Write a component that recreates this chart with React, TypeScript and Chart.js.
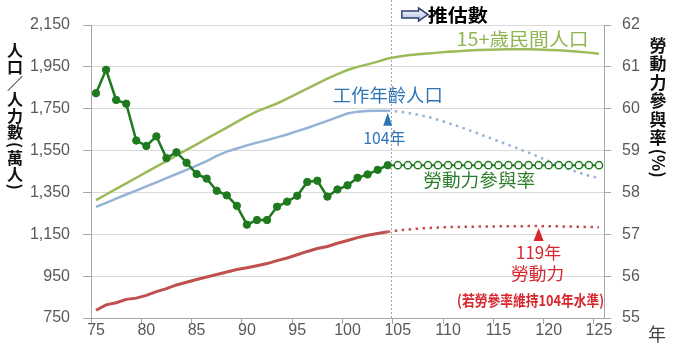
import React, { useEffect, useRef } from 'react';
import { Chart, registerables } from 'chart.js';
Chart.register(...registerables);

// ---- data (民國年) ----
const years = ['75','76','77','78','79','80','81','82','83','84','85','86','87','88','89','90','91','92','93','94','95','96','97','98','99','100','101','102','103','104','105','106','107','108','109','110','111','112','113','114','115','116','117','118','119','120','121','122','123','124','125'];

// 15+歲民間人口 (萬人), 75-125
const pop15 = [1313,1340,1367,1393,1420,1447,1473,1500,1527,1553,1580,1607,1633,1660,1687,1713,1737,1756,1775,1798,1822,1846,1870,1894,1915,1935,1950,1962,1975,1990,1998,2005,2010,2014,2018,2022,2025,2028,2030,2032,2033,2034,2034,2034,2033,2031,2029,2026,2022,2018,2013];

// 工作年齡人口 (萬人): 實績 75-104, 推估 105-125
const workAgeHist = [1281,1300,1320,1340,1359,1379,1398,1418,1438,1458,1478,1500,1525,1545,1560,1575,1588,1600,1613,1627,1643,1658,1675,1692,1710,1727,1736,1739,1740,1740];
const workAgeProj = [1737,1730,1721,1711,1697,1682,1666,1649,1631,1613,1595,1577,1559,1540,1520,1500,1478,1460,1445,1430,1418];

// 勞動力 (萬人)
const laborHist = [787,813,823,839,845,858,876,890,908,921,934,946,958,970,982,990,1000,1010,1024,1037,1052,1068,1082,1092,1107,1120,1134,1145,1154,1162];
const laborProj = [1168,1173,1177,1180,1182,1184,1185,1186,1187,1187,1188,1188,1188,1189,1189,1188,1188,1187,1186,1185,1184];

// 勞動力參與率 (%)
const lfprHist = [60.37,60.93,60.21,60.12,59.24,59.11,59.34,58.82,58.96,58.71,58.44,58.33,58.04,57.93,57.68,57.23,57.34,57.34,57.66,57.78,57.92,58.25,58.28,57.90,58.07,58.17,58.35,58.43,58.54,58.65];
const lfprProj = [58.65,58.65,58.65,58.65,58.65,58.65,58.65,58.65,58.65,58.65,58.65,58.65,58.65,58.65,58.65,58.65,58.65,58.65,58.65,58.65,58.65];

const leftTicks = { min: 750, max: 2150, step: 200 };
const rightTicks = { min: 55, max: 62, step: 1 };

const HIST_LEN = workAgeHist.length; // 30 (75..104)
const LAST_HIST = HIST_LEN - 1; // index of 104
const IDX_119 = years.indexOf('119');

function place(arr: number[], start: number): (number | null)[] {
  return years.map((_, i) => (i >= start && i < start + arr.length ? arr[i - start] : null));
}

const CJK = '"Noto Sans CJK TC", "Noto Sans CJK SC", sans-serif';
const TICK_FONT = 'Liberation Sans';

const C_GREEN_L = '#9BBB59';
const C_BLUE = '#95B3D7';
const C_RED = '#C0504D';
const C_GREEN_D = '#1F7A1F';

function drawText(ctx: CanvasRenderingContext2D, str: string, x: number, y: number, size: number, color: string, weight = 'normal', targetW?: number) {
  ctx.save();
  ctx.font = `${weight} ${size}px ${CJK}`;
  ctx.fillStyle = color;
  ctx.textAlign = 'center';
  ctx.textBaseline = 'middle';
  const w = ctx.measureText(str).width;
  const sx = targetW ? targetW / w : 1;
  ctx.translate(x, y);
  ctx.scale(sx, 1);
  ctx.fillText(str, 0, 0);
  ctx.restore();
}

function drawVertical(ctx: CanvasRenderingContext2D, items: { ch: string; rot?: boolean }[], cx: number, top: number, size: number, pitch: number, color: string) {
  ctx.save();
  ctx.font = `bold ${size}px ${CJK}`;
  ctx.fillStyle = color;
  ctx.textAlign = 'center';
  ctx.textBaseline = 'middle';
  let y = top;
  for (const it of items) {
    if (it.rot) {
      const w = ctx.measureText(it.ch).width + 3;
      ctx.save();
      ctx.translate(cx, y + w / 2);
      ctx.rotate(Math.PI / 2);
      ctx.fillText(it.ch, 0, 0);
      ctx.restore();
      y += w;
    } else {
      ctx.fillText(it.ch, cx, y + pitch / 2);
      y += pitch;
    }
  }
  ctx.restore();
}

function triangleUp(ctx: CanvasRenderingContext2D, x: number, tipY: number, h: number, halfW: number, color: string) {
  ctx.save();
  ctx.fillStyle = color;
  ctx.beginPath();
  ctx.moveTo(x, tipY);
  ctx.lineTo(x + halfW, tipY + h);
  ctx.lineTo(x - halfW, tipY + h);
  ctx.closePath();
  ctx.fill();
  ctx.restore();
}

const annotations = {
  id: 'annotations',
  beforeDatasetsDraw(chart: any) {
    const { ctx, scales, chartArea } = chart;
    const x = scales.x;
    const p0 = x.getPixelForValue(LAST_HIST);
    const p1 = x.getPixelForValue(LAST_HIST + 1);
    const xs = Math.round(p0 + 0.3 * (p1 - p0)) + 0.5;
    ctx.save();
    ctx.strokeStyle = '#A6A6A6';
    ctx.lineWidth = 1;
    ctx.setLineDash([2, 2]);
    ctx.beginPath();
    ctx.moveTo(xs, 0);
    ctx.lineTo(xs, chartArea.bottom);
    ctx.stroke();
    ctx.restore();
  },
  afterDraw(chart: any) {
    const { ctx, scales } = chart;
    const x = scales.x, y = scales.y, y1 = scales.y1;
    const px = (i: number) => x.getPixelForValue(i);

    // 15+歲民間人口
    drawText(ctx, '15+歲民間人口', px(42.4), y.getPixelForValue(2083), 18, '#8FB653', 'normal', 132);
    // 工作年齡人口
    drawText(ctx, '工作年齡人口', px(29), y.getPixelForValue(1813), 18, '#2E75B6', 'normal', 110);
    triangleUp(ctx, px(LAST_HIST), y.getPixelForValue(workAgeHist[LAST_HIST]) + 2, 13, 4.5, '#2E75B6');
    drawText(ctx, '104年', px(28.65), y.getPixelForValue(1612), 16, '#2E75B6', 'normal', 42);
    // 勞動力參與率
    drawText(ctx, '勞動力參與率', px(38.1), y1.getPixelForValue(58.3), 18, '#2D7D2D', 'normal', 112);
    // 119年 勞動力
    triangleUp(ctx, px(IDX_119), y.getPixelForValue(laborProj[IDX_119 - HIST_LEN]) + 2, 13, 5, '#D9262E');
    drawText(ctx, '119年', px(IDX_119), y.getPixelForValue(1061), 17, '#D9262E', 'normal', 45);
    drawText(ctx, '勞動力', px(43.9), y.getPixelForValue(965), 17.5, '#D9262E', 'normal', 53);
    drawText(ctx, '(若勞參率維持104年水準)', px(43.2), y.getPixelForValue(836), 15, '#D9262E', 'bold', 147);

    // 推估數 with arrow
    const ay = y.getPixelForValue(2200);
    const ax0 = px(30.4), ax1 = px(33.0);
    const shaftEnd = ax0 + (ax1 - ax0) * 0.64;
    ctx.save();
    const grad = ctx.createLinearGradient(0, ay - 6, 0, ay + 6);
    grad.addColorStop(0, '#FFFFFF');
    grad.addColorStop(1, '#A9BCDD');
    ctx.fillStyle = grad;
    ctx.strokeStyle = '#2F3F6E';
    ctx.lineWidth = 1.5;
    ctx.beginPath();
    ctx.moveTo(ax0, ay - 3.5);
    ctx.lineTo(shaftEnd, ay - 3.5);
    ctx.lineTo(shaftEnd, ay - 6.5);
    ctx.lineTo(ax1, ay);
    ctx.lineTo(shaftEnd, ay + 6.5);
    ctx.lineTo(shaftEnd, ay + 3.5);
    ctx.lineTo(ax0, ay + 3.5);
    ctx.closePath();
    ctx.fill();
    ctx.stroke();
    ctx.restore();
    drawText(ctx, '推估數', px(35.95), ay + 0.5, 18, '#000000', 'bold', 60);

    // axis titles
    drawVertical(ctx, [
      { ch: '人' }, { ch: '口' }, { ch: '／' }, { ch: '人' }, { ch: '力' }, { ch: '數' },
      { ch: '(', rot: true }, { ch: '萬' }, { ch: '人' }, { ch: ')', rot: true },
    ], 15, 42, 16, 16.4, '#111111');
    drawVertical(ctx, [
      { ch: '勞' }, { ch: '動' }, { ch: '力' }, { ch: '參' }, { ch: '與' }, { ch: '率' },
      { ch: '(%)', rot: true },
    ], 658, 36, 17, 18.5, '#111111');

    // 年
    ctx.save();
    ctx.font = `normal 18px ${CJK}`;
    ctx.fillStyle = '#404040';
    ctx.textAlign = 'center';
    ctx.textBaseline = 'middle';
    ctx.fillText('年', x.right + 53, x.top + 16);
    ctx.restore();
  },
};

export default function App() {
  const ref = useRef<HTMLCanvasElement | null>(null);
  useEffect(() => {
    if (!ref.current) return;
    const chart = new Chart(ref.current, {
      type: 'line',
      data: {
        labels: years,
        datasets: [
          {
            label: '勞動力參與率',
            data: place(lfprHist, 0),
            yAxisID: 'y1',
            borderColor: C_GREEN_D,
            backgroundColor: C_GREEN_D,
            borderWidth: 2.5,
            pointRadius: 3.7,
            pointBackgroundColor: C_GREEN_D,
            pointBorderColor: C_GREEN_D,
            pointBorderWidth: 1,
            tension: 0,
          },
          {
            label: '勞動力參與率(推估)',
            data: place([lfprHist[LAST_HIST], ...lfprProj], LAST_HIST),
            yAxisID: 'y1',
            borderColor: C_GREEN_D,
            borderWidth: 2,
            pointRadius: (c: any) => (c.dataIndex === LAST_HIST ? 0 : 3.6),
            pointBackgroundColor: '#FFFFFF',
            pointBorderColor: C_GREEN_D,
            pointBorderWidth: 1.5,
            tension: 0,
          },
          {
            label: '15+歲民間人口',
            data: place(pop15, 0),
            yAxisID: 'y',
            borderColor: C_GREEN_L,
            borderWidth: 2.5,
            pointRadius: 0,
            tension: 0,
          },
          {
            label: '工作年齡人口',
            data: place(workAgeHist, 0),
            yAxisID: 'y',
            borderColor: C_BLUE,
            borderWidth: 2.5,
            pointRadius: 0,
            tension: 0,
          },
          {
            label: '工作年齡人口(推估)',
            data: place([workAgeHist[LAST_HIST], ...workAgeProj], LAST_HIST),
            yAxisID: 'y',
            borderColor: C_BLUE,
            borderWidth: 2.5,
            borderDash: [2.5, 4.5],
            pointRadius: 0,
            tension: 0,
          },
          {
            label: '勞動力',
            data: place(laborHist, 0),
            yAxisID: 'y',
            borderColor: C_RED,
            borderWidth: 3,
            pointRadius: 0,
            tension: 0,
          },
          {
            label: '勞動力(推估)',
            data: place([laborHist[LAST_HIST], ...laborProj], LAST_HIST),
            yAxisID: 'y',
            borderColor: C_RED,
            borderWidth: 2.5,
            borderDash: [2.5, 4.5],
            pointRadius: 0,
            tension: 0,
          },
        ],
      },
      options: {
        responsive: false,
        animation: false,
        layout: { padding: { top: 25, left: 0, right: 0, bottom: 0 } },
        plugins: { legend: { display: false }, tooltip: { enabled: false } },
        scales: {
          x: {
            type: 'category',
            offset: true,
            grid: {
              offset: true,
              drawOnChartArea: false,
              drawTicks: true,
              tickLength: 6,
              color: (c: any) => (c.index % 5 === 0 ? '#A6A6A6' : 'rgba(0,0,0,0)'),
            },
            border: { display: true, color: '#A6A6A6' },
            ticks: {
              autoSkip: false,
              maxRotation: 0,
              padding: -1,
              color: '#595959',
              font: { family: TICK_FONT, size: 16, lineHeight: 1 },
              callback: (_v: any, i: number) => (i % 5 === 0 ? years[i] : ''),
            },
            afterFit: (s: any) => { s.height = 36; },
          },
          y: {
            type: 'linear',
            position: 'left',
            min: leftTicks.min,
            max: leftTicks.max,
            grid: { color: '#D9D9D9', tickColor: '#A6A6A6', tickLength: 8 },
            border: { display: true, color: '#A6A6A6' },
            ticks: {
              stepSize: leftTicks.step,
              padding: 13,
              color: '#595959',
              font: { family: TICK_FONT, size: 16 },
              callback: (v: any) => Number(v).toLocaleString('en-US'),
            },
            afterFit: (s: any) => { s.width = 91; },
          },
          y1: {
            type: 'linear',
            position: 'right',
            min: rightTicks.min,
            max: rightTicks.max,
            grid: { drawOnChartArea: false, color: '#A6A6A6', tickLength: 7 },
            border: { display: true, color: '#A6A6A6' },
            ticks: {
              stepSize: rightTicks.step,
              padding: 11,
              color: '#595959',
              font: { family: TICK_FONT, size: 16 },
            },
            afterFit: (s: any) => { s.width = 70; },
          },
        },
      },
      plugins: [annotations],
    });
    return () => chart.destroy();
  }, []);
  return (
    <div style={{ position: 'fixed', left: 0, top: 0, width: 674, height: 354, background: '#fff' }}>
      <canvas ref={ref} width={674} height={354} style={{ display: 'block' }} />
    </div>
  );
}
